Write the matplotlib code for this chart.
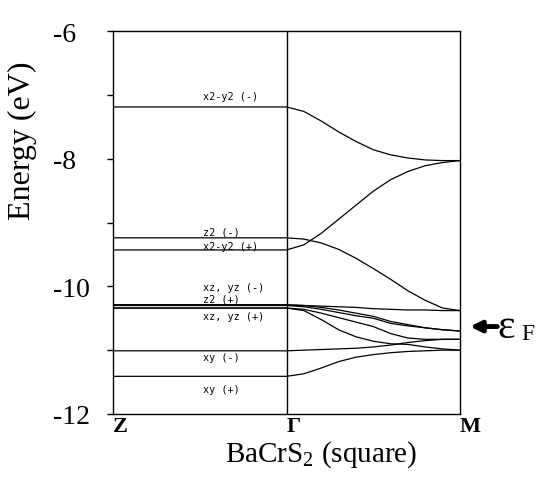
import matplotlib
matplotlib.use("Agg")
import matplotlib.pyplot as plt
import numpy as np

# ---- data ----
k_path = [0.0, 1.0, 1.1, 1.2, 1.3, 1.4, 1.5, 1.6, 1.7, 1.8, 1.9, 2.0]   # Z, Gamma ... M
tick_pos = [0, 1, 2]
tick_labels = ["Z", "Γ", "M"]

# each band: value at Z, then Gamma -> M
x2y2_minus = [-7.19, -7.19, -7.26, -7.41, -7.58, -7.73, -7.86, -7.94, -7.99, -8.02, -8.03, -8.03]
x2y2_plus  = [-9.43, -9.43, -9.35, -9.17, -8.95, -8.73, -8.51, -8.33, -8.20, -8.11, -8.06, -8.03]
z2_minus   = [-9.24, -9.24, -9.26, -9.32, -9.42, -9.56, -9.72, -9.89, -10.07, -10.22, -10.34, -10.38]
xzyz_minus = [-10.29, -10.29, -10.30, -10.31, -10.32, -10.33, -10.35, -10.36, -10.37, -10.37, -10.38, -10.38]
z2_plus_a  = [-10.29, -10.29, -10.30, -10.33, -10.37, -10.42, -10.47, -10.55, -10.60, -10.65, -10.68, -10.70]
z2_plus_b  = [-10.30, -10.30, -10.32, -10.36, -10.41, -10.46, -10.50, -10.58, -10.62, -10.65, -10.68, -10.70]
xzyz_plus_a = [-10.34, -10.34, -10.36, -10.42, -10.49, -10.56, -10.63, -10.74, -10.81, -10.83, -10.83, -10.83]
xzyz_plus_b = [-10.34, -10.34, -10.38, -10.52, -10.68, -10.79, -10.86, -10.90, -10.91, -10.95, -10.98, -11.00]
xy_minus   = [-11.01, -11.01, -11.00, -10.99, -10.98, -10.97, -10.95, -10.92, -10.88, -10.85, -10.83, -10.83]
xy_plus    = [-11.41, -11.41, -11.37, -11.28, -11.18, -11.11, -11.07, -11.04, -11.02, -11.01, -11.00, -11.00]

bands = [x2y2_minus, x2y2_plus, z2_minus, xzyz_minus, z2_plus_a, z2_plus_b,
         xzyz_plus_a, xzyz_plus_b, xy_minus, xy_plus]

level_labels = ["x2-y2 (-)", "z2 (-)", "x2-y2 (+)", "xz, yz (-)", "z2 (+)",
                "xz, yz (+)", "xy (-)", "xy (+)"]
level_label_y = [-7.02, -9.135, -9.37, -10.01, -10.19, -10.47, -11.11, -11.61]

y_ticks = [-12, -11, -10, -9, -8, -7, -6]
y_tick_labels = ["-12", "", "-10", "", "-8", "", "-6"]
fermi = -10.63

# ---- figure ----
plt.rcParams['mathtext.fontset'] = 'custom'
plt.rcParams['mathtext.rm'] = 'Liberation Serif'
plt.rcParams['mathtext.it'] = 'Liberation Serif:italic'

fig = plt.figure(figsize=(5.47, 4.85), dpi=100)
ax = fig.add_axes([113/547, 70/485, 347/547, 383/485])

for b in bands:
    ax.plot(k_path, b, color='black', lw=0.9, solid_capstyle='butt')

ax.axvline(1.0, color='black', lw=1.0)

for lab, yy in zip(level_labels, level_label_y):
    ax.text(0.517, yy, lab, fontsize=7.3, family='DejaVu Sans Mono',
            ha='left', va='center', color='black')

ax.set_xlim(0, 2)
ax.set_ylim(-12, -6)

ax.set_yticks(y_ticks)
ax.set_yticklabels(y_tick_labels, fontsize=20, family='Liberation Serif', ha='left')
ax.tick_params(axis='y', direction='out', length=4, width=1, pad=39.5)

ax.set_xticks(tick_pos)
ax.set_xticklabels(tick_labels, fontsize=16, family='Liberation Serif',
                   fontweight='bold', ha='left')
ax.tick_params(axis='x', length=0, pad=1.5)

for s in ax.spines.values():
    s.set_linewidth(1.0)
    s.set_color('black')

ax.set_ylabel("Energy (eV)", fontsize=23, family='Liberation Serif')
ax.yaxis.set_label_coords(-0.219, 0.715)
ax.set_xlabel(r"BaCrS$_\mathrm{2}$ (square)", fontsize=21, family='Liberation Serif')
ax.xaxis.set_label_coords(0.601, -0.063)

# Fermi level arrow
ax.annotate('', xy=(2.058, fermi), xytext=(2.215, fermi),
            arrowprops=dict(arrowstyle='-|>', lw=3.5, color='black',
                            mutation_scale=16, shrinkA=0, shrinkB=0),
            annotation_clip=False)
ax.text(2.218, fermi - 0.01, "ε", fontsize=30, family='Liberation Serif',
        ha='left', va='center', clip_on=False)
ax.text(2.352, fermi - 0.11, "F", fontsize=17, family='Liberation Serif',
        ha='left', va='center', clip_on=False)

fig.savefig("out.png", dpi=100)
